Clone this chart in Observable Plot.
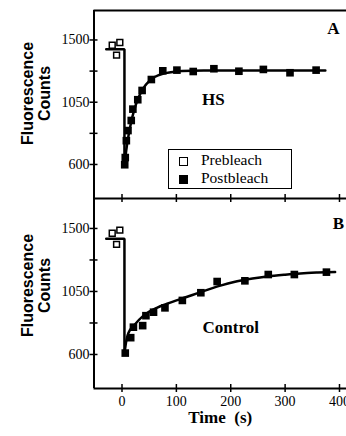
<!DOCTYPE html>
<html>
<head>
<meta charset="utf-8">
<script src="https://cdn.jsdelivr.net/npm/d3@7"></script>
<script src="https://cdn.jsdelivr.net/npm/@observablehq/plot@0.6"></script>
<style>
  html, body { margin: 0; padding: 0; background: #fff; }
  #wrap { position: relative; width: 346px; height: 436px; overflow: hidden; background: #fff; }
  #wrap svg { position: absolute; left: 0; }
  .legend { position: absolute; left: 168px; top: 149px; width: 124px; height: 40px; box-sizing: border-box;
    border: 1.5px solid #000; background: #fff; font-family: "Liberation Serif", serif; font-size: 15.5px; color: #000; }
  .legend .sw { position: absolute; left: 10px; width: 9px; height: 9px; box-sizing: border-box; }
  .legend .lab { position: absolute; left: 32px; line-height: 16px; white-space: nowrap; }
</style>
</head>
<body>
<div id="wrap"></div>
<script>
// ---- data ----
const xTicks = [0, 100, 200, 300, 400];
const yTicks = [600, 1050, 1500];
const yMinorTicks = [825, 1275];

// prebleach (open squares), both panels
const preTime = [-18, -4, -10];
const preA = [1462, 1482, 1390];
const preB = [1466, 1488, 1386];

// prebleach level line and bleach drop
const preLineTime = [-29, 4.5, 4.5];
const preLineA = [1433, 1433, 590];
const preLineB = [1426, 1426, 605];

// postbleach (filled squares), panel A (HS)
const postTimeA = [5, 6, 8, 11, 17, 20, 29, 37, 54, 75, 101, 131, 169, 215, 260, 309, 357];
const postA = [598, 650, 772, 845, 918, 1000, 1068, 1135, 1214, 1277, 1282, 1272, 1292, 1274, 1287, 1263, 1282];

// postbleach (filled squares), panel B (Control)
const postTimeB = [6, 16, 21, 38, 44, 58, 79, 111, 145, 175, 226, 269, 317, 376];
const postB = [610, 720, 795, 806, 877, 902, 933, 986, 1041, 1121, 1126, 1171, 1171, 1188];

// fitted recovery curves (traced)
const fitTimeA = [4.5, 8, 12, 17, 22, 30, 40, 50, 60, 75, 90, 110, 150, 250, 374];
const fitA = [590, 708, 809, 909, 987, 1080, 1156, 1203, 1232, 1256, 1267, 1276, 1280, 1280, 1280];
const fitTimeB = [4.5, 8, 12, 22, 40, 65, 83, 120, 144, 181, 206, 240, 267, 300, 328, 360, 392];
const fitB = [605, 700, 755, 807, 879, 935, 962, 1012, 1045, 1092, 1118, 1142, 1157, 1170, 1179, 1185, 1189];

// annotations
const notesA = [{t: 168, v: 1070, label: "HS", size: 17}, {t: 389, v: 1583, label: "A", size: 17}];
const notesB = [{t: 200, v: 793, label: "Control", size: 17}, {t: 398, v: 1536, label: "B", size: 17}];

const yTitle = "Fluorescence\nCounts";
const xTitle = "Time  (s)";
const legendLabels = ["Prebleach", "Postbleach"];

// ---- drawing ----
const W = 346, ML = 93.5, MR = 0;
const xDomain = [-51.5, 412.9];

function panel({pre, preLine, postT, post, fitT, fit, yDomain, height, marginTop, marginBottom, top, topBorder, showX, notes, titleY}) {
  const kx = (W - ML - MR) / (xDomain[1] - xDomain[0]);
  const ky = (height - marginTop - marginBottom) / (yDomain[1] - yDomain[0]);
  const tx = 4 / kx, ty = 4 / ky;
  const x0 = xDomain[0], y0 = yDomain[0], y1 = yDomain[1];
  const preData = preTime.map((t, i) => ({t, v: pre[i]}));
  const preLineData = preLineTime.map((t, i) => ({t, v: preLine[i]}));
  const postData = postT.map((t, i) => ({t, v: post[i]}));
  const fitData = fitT.map((t, i) => ({t, v: fit[i]}));
  const yTitlePos = {t: x0 - 58 / kx, v: y1 - (titleY - marginTop) / ky};
  const marks = [
    Plot.ruleX([x0], {stroke: "#000", strokeWidth: 2}),
    Plot.ruleY([y0], {stroke: "#000", strokeWidth: 2}),
    Plot.ruleY([...yTicks, ...yMinorTicks], {y: d => d, x1: x0 - tx, x2: x0 + tx, stroke: "#000", strokeWidth: 1.5}),
    Plot.ruleX(xTicks, {x: d => d, y1: y0 - ty, y2: y0 + ty, stroke: "#000", strokeWidth: 1.5}),
    Plot.axisY(yTicks, {tickSize: 0, tickPadding: 4.5, fontSize: 14, label: null, tickFormat: d => String(d)}),
    Plot.line(preLineData, {x: "t", y: "v", stroke: "#000", strokeWidth: 2.5, strokeLinejoin: "miter"}),
    Plot.line(fitData, {x: "t", y: "v", stroke: "#000", strokeWidth: 2.5, curve: "monotone-x"}),
    Plot.dot(preData, {x: "t", y: "v", symbol: "square", r: 3.3, stroke: "#000", strokeWidth: 1.5, fill: "#fff"}),
    Plot.dot(postData, {x: "t", y: "v", symbol: "square", r: 4.3, fill: "#000", stroke: "none"}),
    Plot.text(notes, {x: "t", y: "v", text: "label", fontSize: d => d.size, fontWeight: "bold", fontFamily: "Liberation Serif"}),
    Plot.text([yTitle], {x: () => yTitlePos.t, y: () => yTitlePos.v, text: d => d, rotate: -90,
      fontFamily: "Liberation Sans", fontWeight: "bold", fontSize: 16, lineHeight: 1.06})
  ];
  if (topBorder) marks.push(Plot.ruleY([y1], {stroke: "#000", strokeWidth: 2}));
  if (showX) {
    marks.push(Plot.axisX(xTicks, {tickSize: 0, tickPadding: 8, fontSize: 14, label: null, tickFormat: d => String(d)}));
    marks.push(Plot.text([xTitle], {x: () => 0.5 * (xDomain[0] + xDomain[1]), y: () => y0 - 29 / ky, text: d => d,
      fontFamily: "Liberation Serif", fontWeight: "bold", fontSize: 17}));
  }
  const svg = Plot.plot({
    width: W, height, marginTop, marginBottom, marginLeft: ML, marginRight: MR,
    x: {domain: xDomain, axis: showX ? undefined : null},
    y: {domain: yDomain},
    style: {background: "transparent", fontFamily: "Liberation Serif", fontSize: "14px", color: "#000", overflow: "visible"},
    marks
  });
  svg.style.top = top + "px";
  return svg;
}

const wrap = document.getElementById("wrap");
wrap.appendChild(panel({
  pre: preA, preLine: preLineA, postT: postTimeA, post: postA, fitT: fitTimeA, fit: fitA,
  yDomain: [354, 1713], height: 206, marginTop: 10, marginBottom: 8, top: 0, topBorder: true, showX: false, notes: notesA,
  titleY: 93
}));
wrap.appendChild(panel({
  pre: preB, preLine: preLineB, postT: postTimeB, post: postB, fitT: fitTimeB, fit: fitB,
  yDomain: [357, 1714], height: 246, marginTop: 8, marginBottom: 48, top: 190, topBorder: false, showX: true, notes: notesB,
  titleY: 285 - 190
}));

// legend (inside panel A)
const legend = document.createElement("div");
legend.className = "legend";
legend.innerHTML =
  '<div class="sw" style="top:7px;border:1.5px solid #000;background:#fff"></div>' +
  '<div class="lab" style="top:2px">' + legendLabels[0] + '</div>' +
  '<div class="sw" style="top:25px;background:#000"></div>' +
  '<div class="lab" style="top:20px">' + legendLabels[1] + '</div>';
wrap.appendChild(legend);
</script>
</body>
</html>
